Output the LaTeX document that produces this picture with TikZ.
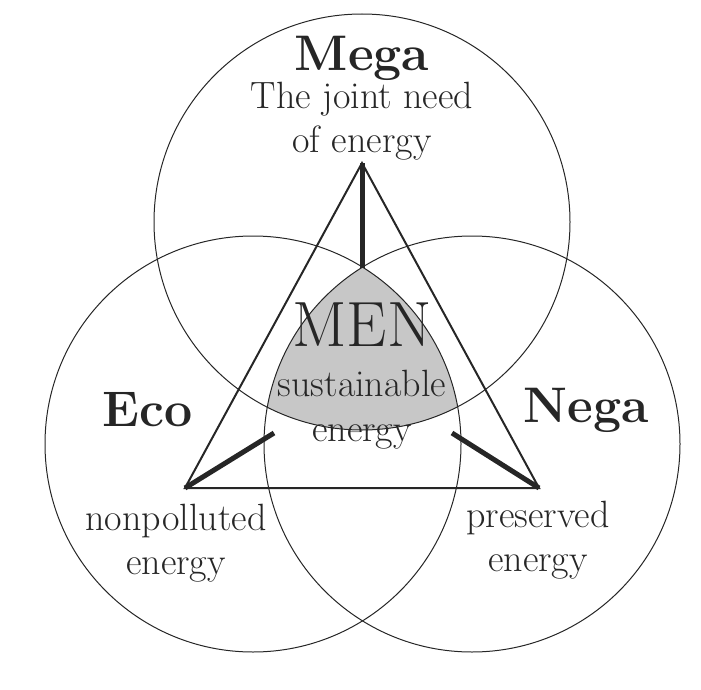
\documentclass[tikz,border=0pt]{standalone}
\usetikzlibrary{positioning}

\begin{document}
\begin{tikzpicture}[
    x=1pt, y=-1pt,
    circ/.style={draw=black!85, line width=1pt},
    spoke/.style={draw=black!85, line width=5pt},
    side/.style={draw=black!85, line width=2pt, line join=miter},
    title_text/.style={font=\fontsize{50}{55}\selectfont\bfseries, text=black!85},
    label_text/.style={font=\fontsize{38}{44}\selectfont, text=black!85, align=center, inner sep=0pt}
]
    \useasboundingbox (0,0) rectangle (701,690);

    % --- 1. Circles ---
    \coordinate (cmega) at (362,222);
    \coordinate (ceco) at (253,444);
    \coordinate (cnega) at (472,444);

    % --- 2. Shared region ---
    \begin{scope}
        \clip (cmega) circle[radius=208];
        \clip (ceco) circle[radius=208];
        \fill[black!22] (cnega) circle[radius=208];
    \end{scope}

    \draw[circ] (cmega) circle[radius=208];
    \draw[circ] (ceco) circle[radius=208];
    \draw[circ] (cnega) circle[radius=208];

    % --- 3. Triangle and spokes ---
    \coordinate (vmega) at (362,163);
    \coordinate (veco) at (185,488);
    \coordinate (vnega) at (539,488);
    \coordinate (pmega) at (362,268);
    \coordinate (peco) at (274,433);
    \coordinate (pnega) at (452,433);

    \draw[side] (vmega) -- (veco) -- (vnega) -- cycle;
    \draw[spoke] (vmega) -- (pmega);
    \draw[spoke] (veco) -- (peco);
    \draw[spoke] (vnega) -- (pnega);

    % --- 4. Labels ---
    \node[title_text] (mega) at (362,58) {Mega};
    \node[label_text] (megatext) at (362,121) {The joint need\\of energy};
    \node[title_text] (eco) at (148,410) {Eco};
    \node[title_text] (nega) at (586,410) {Nega};
    \node[label_text] (ecotext) at (176,543) {nonpolluted\\energy};
    \node[label_text] (negatext) at (538,540) {preserved\\energy};
    \node[label_text, font=\fontsize{64}{70}\selectfont] (men) at (362,325) {MEN};
    \node[label_text] (sust) at (362,383) {sustainable};
    \node[label_text] (ener) at (362,437) {energy};
\end{tikzpicture}
\end{document}
